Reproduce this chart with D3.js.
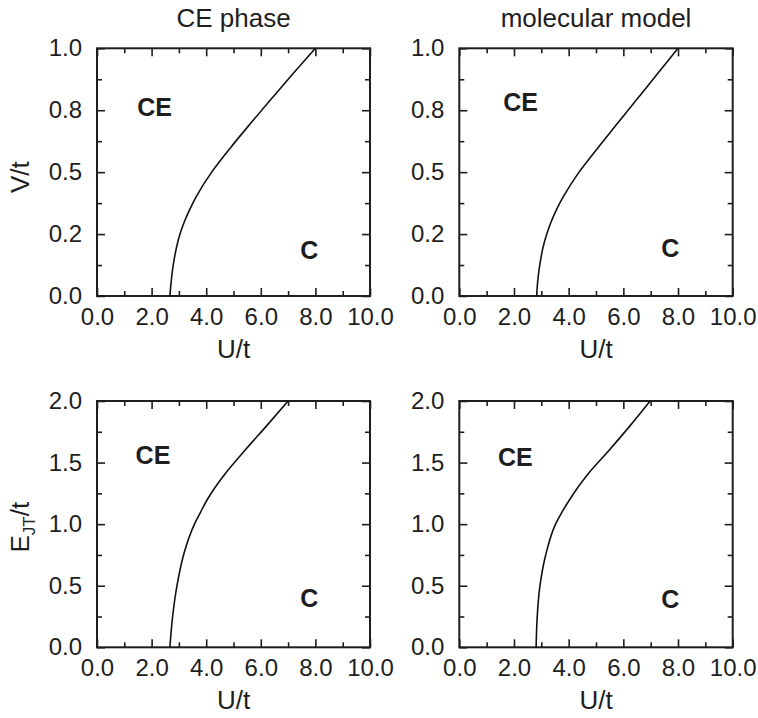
<!DOCTYPE html>
<html>
<head>
<meta charset="utf-8">
<script src="https://cdn.jsdelivr.net/npm/d3@7"></script>
<style>
  html, body { margin: 0; padding: 0; background: #fff; }
  svg { display: block; font-family: "Liberation Sans", Arial, Helvetica, sans-serif; }
</style>
</head>
<body>
<svg id="chart" width="758" height="718"></svg>
<script>
// Phase boundary between CE and C states, as a function of U/t
const uTickValues = [0, 2, 4, 6, 8, 10];
const uTickLabels = ["0.0", "2.0", "4.0", "6.0", "8.0", "10.0"];
const uMinorTicks = [1, 3, 5, 7, 9];

const vTickValues = [0, 0.25, 0.5, 0.75, 1.0];
const vTickLabels = ["0.0", "0.2", "0.5", "0.8", "1.0"];
const vMinorTicks = [0.125, 0.375, 0.625, 0.875];

const ejtTickValues = [0, 0.5, 1.0, 1.5, 2.0];
const ejtTickLabels = ["0.0", "0.5", "1.0", "1.5", "2.0"];
const ejtMinorTicks = [0.25, 0.75, 1.25, 1.75];

// V/t boundary, CE phase calculation
const vLevels      = [0, 0.05, 0.1, 0.15, 0.2, 0.25, 0.3, 0.35, 0.4, 0.5, 0.6, 0.7, 0.8, 0.9, 1.0];
const ceVBoundaryU = [2.67, 2.71, 2.76, 2.83, 2.92, 3.04, 3.2, 3.4, 3.63, 4.2, 4.9, 5.65, 6.42, 7.2, 8.0];
// V/t boundary, molecular model
const molVBoundaryU = [2.83, 2.86, 2.91, 2.98, 3.07, 3.2, 3.36, 3.56, 3.8, 4.38, 5.08, 5.81, 6.54, 7.27, 8.0];

// E_JT/t boundary
const ejtLevels      = [0, 0.25, 0.5, 0.75, 1.0, 1.1, 1.2, 1.3, 1.4, 1.6, 1.8, 2.0];
const ceEBoundaryU   = [2.67, 2.77, 2.93, 3.17, 3.57, 3.8, 4.04, 4.33, 4.66, 5.42, 6.22, 7.0];
const molEBoundaryU  = [2.81, 2.85, 2.95, 3.16, 3.52, 3.76, 4.04, 4.34, 4.68, 5.48, 6.25, 6.98];

const panels = [
  { title: "CE phase", ylabel: "V", x0: 97, x1: 370, y0: 48.3, y1: 296,
    yMax: 1.0, yTicks: vTickValues, yLabels: vTickLabels, yMinor: vMinorTicks,
    levels: vLevels, boundary: ceVBoundaryU,
    ce: [2.11, 0.725], c: [7.78, 0.15] },
  { title: "molecular model", ylabel: null, x0: 459.3, x1: 732.7, y0: 48.3, y1: 296,
    yMax: 1.0, yTicks: vTickValues, yLabels: vTickLabels, yMinor: vMinorTicks,
    levels: vLevels, boundary: molVBoundaryU,
    ce: [2.24, 0.745], c: [7.72, 0.157] },
  { title: null, ylabel: "EJT", x0: 97, x1: 370, y0: 401, y1: 647.3,
    yMax: 2.0, yTicks: ejtTickValues, yLabels: ejtTickLabels, yMinor: ejtMinorTicks,
    levels: ejtLevels, boundary: ceEBoundaryU,
    ce: [2.05, 1.49], c: [7.78, 0.325] },
  { title: null, ylabel: null, x0: 459.3, x1: 732.7, y0: 401, y1: 647.3,
    yMax: 2.0, yTicks: ejtTickValues, yLabels: ejtTickLabels, yMinor: ejtMinorTicks,
    levels: ejtLevels, boundary: molEBoundaryU,
    ce: [2.05, 1.472], c: [7.72, 0.317] }
];

const svg = d3.select("#chart");
const tickFont = 24, labelFont = 26, phaseFont = 25;
const ink = "#1e1e1e";

panels.forEach(p => {
  const x = d3.scaleLinear().domain([0, 10]).range([p.x0, p.x1]);
  const y = d3.scaleLinear().domain([0, p.yMax]).range([p.y1, p.y0]);
  const g = svg.append("g");

  const fmtX = (d) => uTickLabels[uTickValues.indexOf(d)];
  const fmtY = (d) => p.yLabels[p.yTicks.indexOf(d)];

  // major + minor ticks on all four sides, pointing inward
  g.append("g").attr("transform", `translate(0,${p.y1})`)
    .call(d3.axisBottom(x).tickValues(uTickValues).tickFormat(fmtX).tickSize(-8).tickPadding(12));
  g.append("g").attr("transform", `translate(0,${p.y1})`)
    .call(d3.axisBottom(x).tickValues(uMinorTicks).tickFormat("").tickSize(-5));
  g.append("g").attr("transform", `translate(0,${p.y0})`)
    .call(d3.axisTop(x).tickValues(uTickValues).tickFormat("").tickSize(-8));
  g.append("g").attr("transform", `translate(0,${p.y0})`)
    .call(d3.axisTop(x).tickValues(uMinorTicks).tickFormat("").tickSize(-5));

  g.append("g").attr("transform", `translate(${p.x0},0)`)
    .call(d3.axisLeft(y).tickValues(p.yTicks).tickFormat(fmtY).tickSize(-8).tickPadding(15));
  g.append("g").attr("transform", `translate(${p.x0},0)`)
    .call(d3.axisLeft(y).tickValues(p.yMinor).tickFormat("").tickSize(-5));
  g.append("g").attr("transform", `translate(${p.x1},0)`)
    .call(d3.axisRight(y).tickValues(p.yTicks).tickFormat("").tickSize(-8));
  g.append("g").attr("transform", `translate(${p.x1},0)`)
    .call(d3.axisRight(y).tickValues(p.yMinor).tickFormat("").tickSize(-5));

  g.selectAll(".domain").remove();
  g.selectAll(".tick line").attr("stroke", ink).attr("stroke-width", 1.6);
  g.selectAll(".tick text").attr("fill", ink)
    .style("font-family", "'Liberation Sans', Arial, sans-serif")
    .style("font-size", tickFont + "px");

  // frame
  g.append("rect")
    .attr("x", p.x0).attr("y", p.y0)
    .attr("width", p.x1 - p.x0).attr("height", p.y1 - p.y0)
    .attr("fill", "none").attr("stroke", ink).attr("stroke-width", 2);

  // boundary line
  const pts = p.levels.map((v, i) => [p.boundary[i], v]);
  g.append("path")
    .datum(pts)
    .attr("fill", "none")
    .attr("stroke", "#111")
    .attr("stroke-width", 1.6)
    .attr("d", d3.line().x(d => x(d[0])).y(d => y(d[1])).curve(d3.curveMonotoneY));

  // phase labels
  g.append("text").attr("x", x(p.ce[0])).attr("y", y(p.ce[1]))
    .attr("text-anchor", "middle").attr("font-weight", "bold")
    .attr("font-size", phaseFont).attr("fill", ink).text("CE");
  g.append("text").attr("x", x(p.c[0])).attr("y", y(p.c[1]))
    .attr("text-anchor", "middle").attr("font-weight", "bold")
    .attr("font-size", phaseFont).attr("fill", ink).text("C");

  // x-axis title
  g.append("text").attr("x", (p.x0 + p.x1) / 2).attr("y", p.y1 + 62)
    .attr("text-anchor", "middle").attr("font-size", labelFont).attr("fill", ink).text("U/t");

  if (p.title) {
    g.append("text").attr("x", (p.x0 + p.x1) / 2).attr("y", p.y0 - 21)
      .attr("text-anchor", "middle").attr("font-size", labelFont).attr("fill", ink).text(p.title);
  }

  if (p.ylabel === "V") {
    g.append("text")
      .attr("transform", `translate(29,${(p.y0 + p.y1) / 2 + 5}) rotate(-90)`)
      .attr("text-anchor", "middle").attr("font-size", labelFont).attr("fill", ink).text("V/t");
  } else if (p.ylabel === "EJT") {
    const t = g.append("text")
      .attr("transform", `translate(29,${(p.y0 + p.y1) / 2 + 3}) rotate(-90)`)
      .attr("text-anchor", "middle").attr("font-size", labelFont).attr("fill", ink);
    t.append("tspan").text("E");
    t.append("tspan").attr("font-size", 17).attr("dy", 6).text("JT");
    t.append("tspan").attr("dy", -6).text("/t");
  }
});
</script>
</body>
</html>
